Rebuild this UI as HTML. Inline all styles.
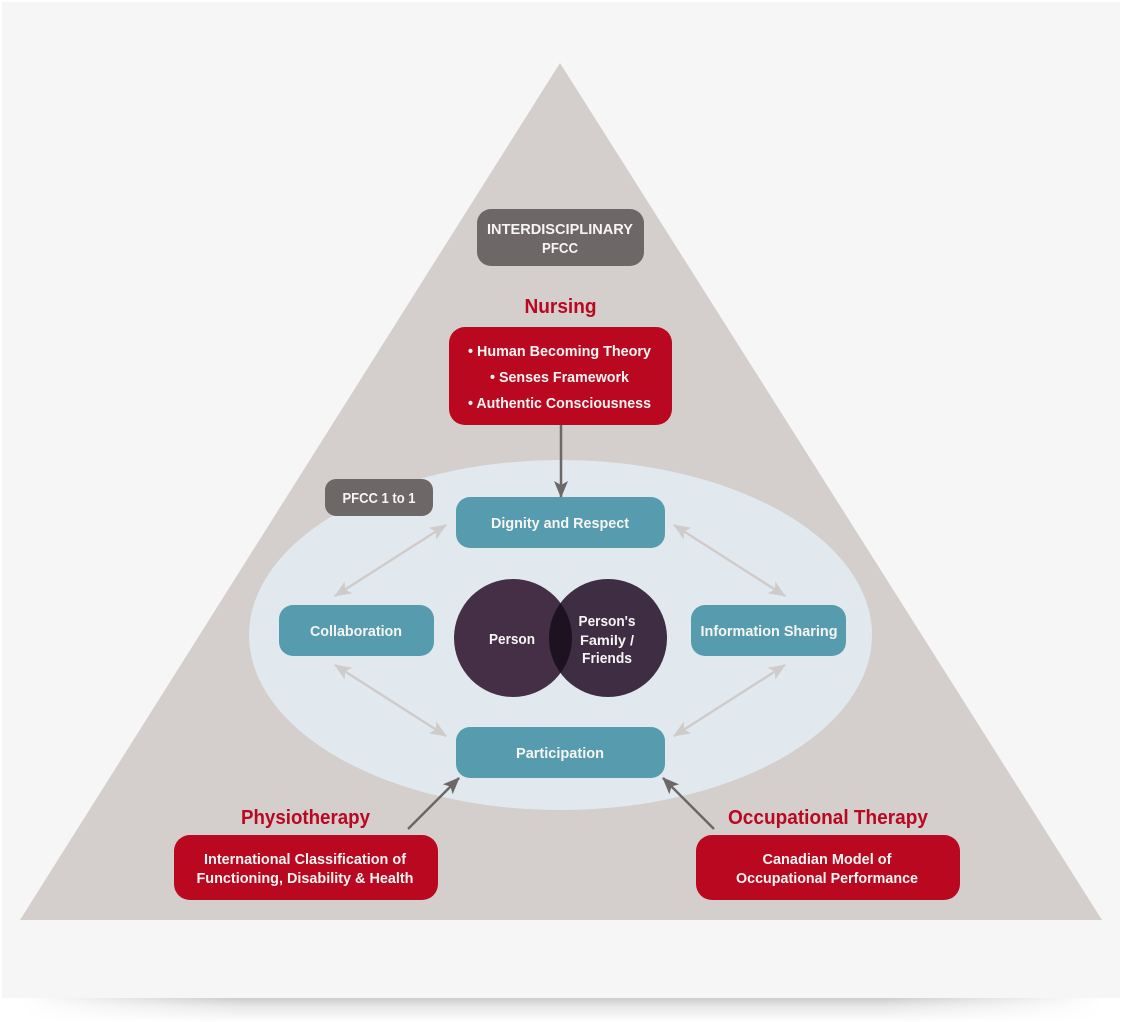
<!DOCTYPE html>
<html><head><meta charset="utf-8"><style>
html,body{margin:0;padding:0;background:#fff;width:1122px;height:1022px;overflow:hidden}
svg{display:block}
text{font-family:"Liberation Sans",sans-serif;font-weight:bold;fill:#f7f5f3;text-anchor:middle}
.r{fill:#b9081f}
</style></head><body>
<svg width="1122" height="1022" viewBox="0 0 1122 1022" xmlns="http://www.w3.org/2000/svg">
<defs>
<linearGradient id="sv" x1="0" y1="0" x2="0" y2="1"><stop offset="0" stop-color="#000" stop-opacity=".2"/><stop offset=".35" stop-color="#000" stop-opacity=".09"/><stop offset="1" stop-color="#000" stop-opacity="0"/></linearGradient>
<linearGradient id="sh" x1="0" y1="0" x2="1" y2="0"><stop offset="0" stop-color="#000"/><stop offset=".2" stop-color="#fff"/><stop offset=".8" stop-color="#fff"/><stop offset="1" stop-color="#000"/></linearGradient>
<mask id="sm" maskUnits="userSpaceOnUse" x="0" y="990" width="1122" height="32"><rect x="20" y="990" width="1082" height="32" fill="url(#sh)"/></mask>
<clipPath id="cl"><circle cx="513" cy="638" r="59"/></clipPath>
<marker id="g" viewBox="0 0 17 14" refX="16" refY="7" markerWidth="17" markerHeight="14" markerUnits="userSpaceOnUse" orient="auto-start-reverse"><path d="M0 0L17 7L0 14L4 7Z" fill="#d0cbcb"/></marker>
<marker id="d" viewBox="0 0 17 14" refX="16" refY="7" markerWidth="17" markerHeight="14" markerUnits="userSpaceOnUse" orient="auto"><path d="M0 0L17 7L0 14L4 7Z" fill="#6e6768"/></marker>
</defs>
<rect x="0" y="998" width="1122" height="24" fill="url(#sv)" mask="url(#sm)"/>
<rect x="2" y="2" width="1118" height="996" fill="#f6f6f6"/>
<polygon points="560,63 1102,920 20,920" fill="#d4cecd"/>
<ellipse cx="560.500" cy="635" rx="311.500" ry="175" fill="#e1e9ee"/>

<rect x="477" y="209" width="167" height="57" rx="14" fill="#6e6768"/>
<text x="560" y="234" font-size="14.500" textLength="146" lengthAdjust="spacingAndGlyphs">INTERDISCIPLINARY</text>
<text x="560" y="253" font-size="14.500" textLength="36" lengthAdjust="spacingAndGlyphs">PFCC</text>

<text class="r" x="560.500" y="313" font-size="20" textLength="72" lengthAdjust="spacingAndGlyphs">Nursing</text>
<rect x="449" y="327" width="223" height="98" rx="16" fill="#b9081f"/>
<text x="559.500" y="356" font-size="14.500" textLength="183" lengthAdjust="spacingAndGlyphs">• Human Becoming Theory</text>
<text x="559.500" y="382" font-size="14.500" textLength="139" lengthAdjust="spacingAndGlyphs">• Senses Framework</text>
<text x="559.500" y="408" font-size="14.500" textLength="183" lengthAdjust="spacingAndGlyphs">• Authentic Consciousness</text>

<rect x="325" y="479" width="108" height="37" rx="11" fill="#6e6768"/>
<text x="379" y="503" font-size="14.500" textLength="73" lengthAdjust="spacingAndGlyphs">PFCC 1 to 1</text>

<line x1="561" y1="425" x2="561" y2="497" stroke="#6e6768" stroke-width="2.500" marker-end="url(#d)"/>

<g stroke="#d0cbcb" stroke-width="2.500" fill="none">
<line x1="335" y1="596" x2="446" y2="525" marker-start="url(#g)" marker-end="url(#g)"/>
<line x1="674" y1="525" x2="785" y2="596" marker-start="url(#g)" marker-end="url(#g)"/>
<line x1="335" y1="665" x2="446" y2="736" marker-start="url(#g)" marker-end="url(#g)"/>
<line x1="674" y1="736" x2="785" y2="665" marker-start="url(#g)" marker-end="url(#g)"/>
</g>

<rect x="456" y="497" width="209" height="51" rx="14" fill="#569cae"/>
<text x="560" y="528" font-size="14.500" textLength="138" lengthAdjust="spacingAndGlyphs">Dignity and Respect</text>
<rect x="279" y="605" width="155" height="51" rx="14" fill="#569cae"/>
<text x="356" y="636" font-size="14.500" textLength="92" lengthAdjust="spacingAndGlyphs">Collaboration</text>
<rect x="691" y="605" width="155" height="51" rx="14" fill="#569cae"/>
<text x="769" y="636" font-size="14.500" textLength="137" lengthAdjust="spacingAndGlyphs">Information Sharing</text>
<rect x="456" y="727" width="209" height="51" rx="14" fill="#569cae"/>
<text x="560" y="758" font-size="14.500" textLength="88" lengthAdjust="spacingAndGlyphs">Participation</text>

<circle cx="513" cy="638" r="59" fill="#452f47"/>
<circle cx="608" cy="638" r="59" fill="#3e2d43"/>
<circle cx="608" cy="638" r="59" fill="#1d1320" clip-path="url(#cl)"/>
<text x="512" y="644" font-size="14.500" textLength="46" lengthAdjust="spacingAndGlyphs">Person</text>
<text x="607" y="626" font-size="14.500" textLength="57" lengthAdjust="spacingAndGlyphs">Person's</text>
<text x="607" y="645" font-size="14" textLength="54" lengthAdjust="spacingAndGlyphs">Family /</text>
<text x="607" y="663" font-size="14.500" textLength="50" lengthAdjust="spacingAndGlyphs">Friends</text>

<line x1="408" y1="829" x2="459" y2="778" stroke="#6e6768" stroke-width="2.500" marker-end="url(#d)"/>
<line x1="714" y1="829" x2="663" y2="778" stroke="#6e6768" stroke-width="2.500" marker-end="url(#d)"/>

<text class="r" x="305.500" y="824" font-size="20" textLength="129" lengthAdjust="spacingAndGlyphs">Physiotherapy</text>
<rect x="174" y="835" width="264" height="65" rx="16" fill="#b9081f"/>
<text x="305" y="864" font-size="14.500" textLength="202" lengthAdjust="spacingAndGlyphs">International Classification of</text>
<text x="305" y="883" font-size="14.500" textLength="217" lengthAdjust="spacingAndGlyphs">Functioning, Disability &amp; Health</text>

<text class="r" x="828" y="824" font-size="20" textLength="200" lengthAdjust="spacingAndGlyphs">Occupational Therapy</text>
<rect x="696" y="835" width="264" height="65" rx="16" fill="#b9081f"/>
<text x="827" y="864" font-size="14.500" textLength="129" lengthAdjust="spacingAndGlyphs">Canadian Model of</text>
<text x="827" y="883" font-size="14.500" textLength="182" lengthAdjust="spacingAndGlyphs">Occupational Performance</text>
</svg>
</body></html>
